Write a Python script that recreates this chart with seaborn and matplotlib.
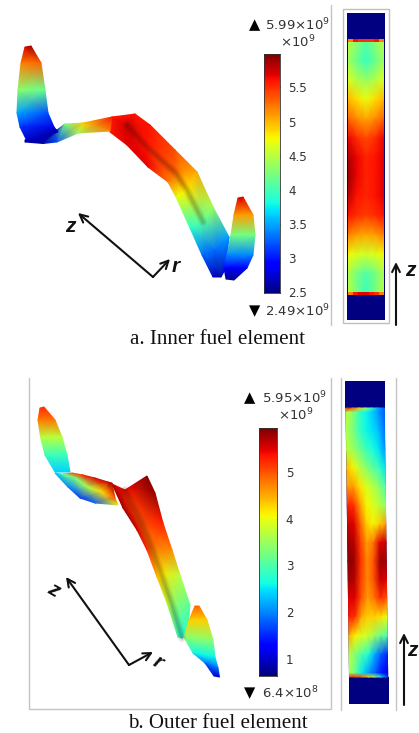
import numpy as np
import matplotlib
matplotlib.use('Agg')
import matplotlib.pyplot as plt
from matplotlib.patches import Polygon, Rectangle
from matplotlib.transforms import Affine2D
import seaborn as sns

W, H = 419, 733

# ---------- colour scales (x10^9) ----------
inner_min, inner_max = 2.49, 5.99
outer_min, outer_max = 0.64, 5.95
inner_ticks = [2.5, 3, 3.5, 4, 4.5, 5, 5.5]
inner_tick_labels = ['2.5', '3', '3.5', '4', '4.5', '5', '5.5']
outer_ticks = [1, 2, 3, 4, 5]
outer_tick_labels = ['1', '2', '3', '4', '5']

# ---------- heat flux (top to bottom, left to right) ----------
inner_strip = [
    [4.50, 4.30, 4.10, 4.30, 4.50],
    [4.40, 4.15, 3.95, 4.15, 4.40],
    [4.65, 4.45, 4.35, 4.45, 4.65],
    [5.00, 4.85, 4.70, 4.85, 5.00],
    [5.30, 5.15, 5.05, 5.15, 5.30],
    [5.65, 5.50, 5.40, 5.50, 5.65],
    [5.85, 5.65, 5.55, 5.60, 5.70],
    [5.90, 5.65, 5.55, 5.60, 5.70],
    [5.80, 5.60, 5.55, 5.60, 5.70],
    [5.60, 5.50, 5.45, 5.50, 5.60],
    [5.20, 5.10, 5.05, 5.10, 5.20],
    [4.75, 4.65, 4.60, 4.65, 4.75],
    [4.45, 4.20, 4.05, 4.20, 4.45],
    [4.50, 4.20, 3.95, 4.20, 4.50],
]
inner_edge_top = [[5.2, 5.6, 5.5, 5.5, 5.5, 5.6, 5.2]]
inner_edge_bottom = [[5.2, 5.6, 5.7, 5.7, 5.6, 5.5, 5.2]]

outer_strip = [
    [3.7, 3.4, 2.9, 2.6, 2.4, 2.1, 1.8],
    [3.6, 3.3, 2.9, 2.6, 2.5, 2.3, 1.9],
    [3.7, 3.5, 3.2, 2.9, 2.7, 2.5, 2.1],
    [4.4, 4.1, 3.7, 3.4, 3.1, 2.9, 2.5],
    [4.6, 4.6, 4.2, 3.9, 3.7, 3.4, 3.0],
    [5.3, 5.2, 4.6, 4.1, 3.9, 3.7, 3.4],
    [5.6, 5.5, 4.9, 4.3, 4.1, 4.3, 4.6],
    [5.8, 5.7, 5.1, 4.6, 4.8, 5.5, 5.6],
    [5.9, 5.8, 5.2, 4.7, 5.0, 5.8, 5.8],
    [5.8, 5.7, 5.1, 4.7, 5.0, 5.6, 5.5],
    [5.5, 5.5, 5.0, 4.6, 4.8, 5.2, 5.0],
    [5.3, 5.2, 4.5, 4.3, 4.3, 4.2, 4.0],
    [4.5, 4.1, 3.9, 3.8, 3.5, 3.2, 3.0],
    [3.7, 3.3, 3.0, 2.7, 2.2, 1.8, 1.5],
    [3.6, 3.1, 2.5, 2.1, 1.8, 1.4, 1.1],
]
outer_edge_top = [[5.4, 5.0, 4.4, 3.6, 2.8, 2.2, 1.8],
                  [3.7, 3.4, 2.9, 2.6, 2.4, 2.1, 1.8]]
outer_edge_bottom = [[3.6, 3.1, 2.5, 2.1, 1.8, 1.4, 1.1],
                     [5.3, 5.2, 4.9, 4.3, 3.5, 2.5, 1.5]]

# ---------- 3D surfaces: x, y of each rail (in picture pixels) and the value at every node ----------
inner_blade_x = [[25, 31], [21, 41], [18, 45], [17, 48], [20, 54], [27, 58]]
inner_blade_y = [[47, 46], [63, 63], [90, 90], [113, 113], [127, 127], [141, 132]]
inner_blade_v = [[5.7, 5.9], [5.2, 5.3], [4.3, 4.15], [3.5, 3.2], [3.1, 2.8], [2.7, 2.6]]

inner_link_x = [[25, 25], [43, 57], [57, 65], [78, 83], [110, 112]]
inner_link_y = [[142, 140], [143.5, 130], [142, 124], [133, 123], [131, 117]]
inner_link_v = [[2.6, 2.7], [2.6, 2.7], [3.2, 4.2], [4.4, 4.9], [5.2, 5.6]]

inner_main_x = [[110, 112, 112], [127, 127, 135], [148, 147, 150], [168, 175, 175],
                [176, 187, 197], [190, 203, 213], [202, 215, 229], [213, 221, 226]]
inner_main_y = [[132, 118, 117], [145, 125, 114], [167, 147, 125], [182, 172, 150],
                [197, 190, 172], [228, 222, 207], [255, 250, 237], [277, 277, 268]]
inner_main_v = [[5.6, 5.6, 5.6], [5.7, 5.75, 5.6], [5.65, 5.6, 5.6], [5.2, 5.3, 5.4],
                [4.7, 4.8, 5.05], [3.9, 4.1, 4.4], [3.3, 3.3, 3.5], [2.7, 2.6, 3.0]]

inner_peak_x = [[238, 243], [234, 253], [231, 255], [227, 253], [224, 247], [226, 234]]
inner_peak_y = [[198, 197], [215, 215], [235, 235], [255, 255], [268, 268], [279, 280]]
inner_peak_v = [[5.7, 5.7], [5.1, 5.1], [4.2, 4.2], [3.4, 3.4], [2.9, 2.9], [2.55, 2.55]]

outer_blade_x = [[40, 44], [38, 55], [40.5, 62], [45, 67], [55, 70]]
outer_blade_y = [[408, 407], [420, 420], [437, 437], [455, 455], [472, 472]]
outer_blade_v = [[5.2, 5.2], [4.8, 4.8], [3.7, 3.7], [2.9, 2.9], [2.4, 2.4]]

outer_link_x = [[55, 63, 72], [68, 75, 83], [80, 88, 95], [95, 102, 108], [118, 115, 112]]
outer_link_y = [[473, 474, 473], [487, 478, 475], [498, 487, 478], [503, 492, 482], [505, 498, 483]]
outer_link_v = [[2.3, 3.2, 5.0], [2.0, 3.3, 5.3], [1.6, 3.6, 5.5], [1.8, 4.2, 5.6], [4.0, 5.0, 5.8]]

outer_main_x = [[112, 125, 147], [123, 130, 155], [137, 143, 163], [147, 152, 172],
                [157, 161, 180], [167, 172, 190], [178, 182, 187]]
outer_main_y = [[484, 490, 476], [508, 500, 493], [530, 525, 523], [550, 548, 550],
                [577, 573, 575], [603, 605, 605], [637, 638, 635]]
outer_main_v = [[5.7, 5.4, 5.9], [5.8, 5.2, 5.85], [5.6, 5.0, 5.3], [5.3, 4.8, 4.7],
                [4.4, 4.2, 3.7], [3.8, 3.4, 3.1], [2.8, 2.6, 2.8]]

sns.set_theme(style='white')
plt.rcParams['font.family'] = ['DejaVu Sans']
plt.rcParams['mathtext.default'] = 'regular'

outer_peak_x = [[195, 199], [189, 207], [184, 213], [193, 215], [205, 218], [214, 219.5]]
outer_peak_y = [[606, 606], [620, 620], [637, 640], [653, 657], [663, 668], [676, 677]]
outer_peak_v = [[4.9, 4.9], [4.3, 4.3], [3.4, 3.4], [2.6, 2.6], [1.9, 1.9], [1.0, 1.0]]

fig = plt.figure(figsize=(W / 100, H / 100), dpi=100, facecolor='white')

# overlay in picture pixels, for the surfaces, frames and labels
page = fig.add_axes([0, 0, 1, 1])
page.set_xlim(0, W)
page.set_ylim(H, 0)
page.axis('off')


def px_axes(x0, y0, x1, y1):
    return fig.add_axes([x0 / W, 1 - y1 / H, (x1 - x0) / W, (y1 - y0) / H])


def surface(x, y, v, vmin, vmax, crease=None):
    x, y = np.array(x), np.array(y)
    page.pcolormesh(x, y, np.array(v), shading='gouraud', cmap='jet', vmin=vmin, vmax=vmax)
    if crease is not None:
        # soft dark fold along one rail
        for lw, a in [(6, 0.07), (4, 0.09), (2, 0.12)]:
            page.plot(x[crease[0]:crease[1], 1], y[crease[0]:crease[1], 1],
                      color='#301000', lw=lw, alpha=a, solid_capstyle='round')


def strip_part(rect, values, vmin, vmax, smooth=False, shear=None):
    ax = px_axes(*rect)
    kws = {'shading': 'gouraud'} if smooth else {}
    sns.heatmap(np.array(values), ax=ax, cmap='jet', vmin=vmin, vmax=vmax, cbar=False,
                xticklabels=False, yticklabels=False, **kws)
    rows, cols = np.array(values).shape
    if smooth:
        ax.set_xlim(0, cols - 1)
        ax.set_ylim(rows - 1, 0)
    ax.axis('off')
    if shear is not None:
        mesh = ax.collections[0]
        mesh.set_transform(ax.transData + shear)
        mesh.set_clip_on(False)


def colorbar(rect, vmin, vmax, ticks, labels):
    ax = px_axes(*rect)
    ramp = np.linspace(vmax, vmin, 256).reshape(-1, 1)
    sns.heatmap(ramp, ax=ax, cmap='jet', vmin=vmin, vmax=vmax, cbar=False,
                xticklabels=False, yticklabels=False)
    ax.set_yticks([(vmax - t) / (vmax - vmin) * 256 for t in ticks], labels, rotation=0)
    ax.tick_params(axis='y', direction='in', left=True, right=True, labelleft=False,
                   labelright=True, length=2.5, width=0.7, color='#222222', pad=6,
                   labelsize=8.6, labelcolor='#333333')
    for s in ax.spines.values():
        s.set_visible(True)
        s.set_linewidth(0.6)
        s.set_color('#333333')


# ---------- inner element ----------
surface(inner_main_x, inner_main_y, inner_main_v, inner_min, inner_max, crease=(1, 6))
surface(inner_link_x, inner_link_y, inner_link_v, inner_min, inner_max)
surface(inner_blade_x, inner_blade_y, inner_blade_v, inner_min, inner_max)
surface(inner_peak_x, inner_peak_y, inner_peak_v, inner_min, inner_max)

colorbar((263.5, 54, 280, 293), inner_min, inner_max, inner_ticks, inner_tick_labels)

page.plot([330.5, 330.5], [5, 325], color='#c4c4c4', lw=1)
page.add_patch(Rectangle((343, 9), 46, 314, fc='white', ec='#c0c0c0', lw=1))
page.add_patch(Rectangle((347, 39), 38, 256, fc='#00007f', ec='none'))
strip_part((347, 13, 385, 39), [[inner_min]], inner_min, inner_max)
strip_part((347, 295, 385, 320), [[inner_min]], inner_min, inner_max)
strip_part((348, 41, 384, 293), inner_strip, inner_min, inner_max, smooth=True)
strip_part((348, 39, 384, 42), inner_edge_top, inner_min, inner_max)
strip_part((348, 292, 384, 295), inner_edge_bottom, inner_min, inner_max)

# ---------- outer element ----------
surface(outer_main_x, outer_main_y, outer_main_v, outer_min, outer_max, crease=(0, 7))
surface(outer_link_x, outer_link_y, outer_link_v, outer_min, outer_max)
surface(outer_blade_x, outer_blade_y, outer_blade_v, outer_min, outer_max)
surface(outer_peak_x, outer_peak_y, outer_peak_v, outer_min, outer_max)

colorbar((259.3, 428, 277.3, 675.5), outer_min, outer_max, outer_ticks, outer_tick_labels)

page.plot([28.5, 28.5, 330.5, 330.5], [378, 708.5, 708.5, 378], color='#c4c4c4', lw=1)
page.plot([341, 341], [378, 710], color='#c4c4c4', lw=1)
page.plot([395.7, 395.7], [378, 710], color='#c4c4c4', lw=1)

# the outer strip leans a little, sheared about its top edge
k = 0.0124
y_ref = H - 381
lean = Affine2D.from_values(1, 0, -k, 1, k * y_ref, 0)
page.add_patch(Polygon([(345.5, 408), (384.6, 408), (388.2, 677), (349, 677)],
                       fc='#00007f', ec='none'))
strip_part((345, 381, 384.5, 408), [[outer_min]], outer_min, outer_max, shear=lean)
strip_part((345, 677, 384.5, 704), [[outer_min]], outer_min, outer_max, shear=lean)
strip_part((345.8, 412, 384, 673), outer_strip, outer_min, outer_max, smooth=True, shear=lean)
strip_part((345.8, 408, 384, 412), outer_edge_top, outer_min, outer_max, smooth=True, shear=lean)
strip_part((345.8, 673, 384, 677), outer_edge_bottom, outer_min, outer_max, smooth=True, shear=lean)

# ---------- arrows ----------
arrow = dict(arrowstyle='->', lw=1.5, color='#111111', mutation_scale=14, shrinkA=0, shrinkB=0)
page.annotate('', xy=(78, 213), xytext=(153, 277), arrowprops=arrow)
page.annotate('', xy=(170, 259), xytext=(153, 277), arrowprops=arrow)
page.annotate('', xy=(396, 262), xytext=(396, 325), arrowprops=arrow)
page.annotate('', xy=(66, 577), xytext=(129, 665), arrowprops=arrow)
page.annotate('', xy=(153, 652), xytext=(129, 665), arrowprops=arrow)
page.annotate('', xy=(404, 633), xytext=(404, 705), arrowprops=arrow)

axis_font = dict(family='Liberation Sans', style='italic', weight='bold', fontsize=15,
                 ha='center', va='center', color='#111111')
page.text(70, 226, 'z', **axis_font)
page.text(176, 267, 'r', **axis_font)
page.text(410, 271, 'z', **axis_font)
page.text(53, 590, 'z', rotation=-30, **axis_font)
page.text(158, 662, 'r', rotation=-30, **axis_font)
page.text(412, 650, 'z', **axis_font)

# ---------- colour bar range labels ----------
label_font = dict(fontsize=9.5, ha='left', va='center', color='#333333')
mark_font = dict(fontsize=10.5, ha='center', va='center', color='black')
page.text(255, 25, '▲', **mark_font)
page.text(265, 25, '5.99×10$^{9}$', **label_font)
page.text(280, 42, '×10$^{9}$', **label_font)
page.text(255, 311, '▼', **mark_font)
page.text(265, 311, '2.49×10$^{9}$', **label_font)
page.text(250, 398, '▲', **mark_font)
page.text(262, 398, '5.95×10$^{9}$', **label_font)
page.text(278, 415, '×10$^{9}$', **label_font)
page.text(250, 693, '▼', **mark_font)
page.text(262, 693, '6.4×10$^{8}$', **label_font)

# ---------- captions ----------
caption = dict(family='Liberation Serif', fontsize=15.1, ha='left', va='center', color='#111111')
page.text(130, 339, 'a. Inner fuel element', **caption)
page.text(128, 723, 'b. Outer fuel element', **caption)

fig.savefig('out.png', dpi=100)
